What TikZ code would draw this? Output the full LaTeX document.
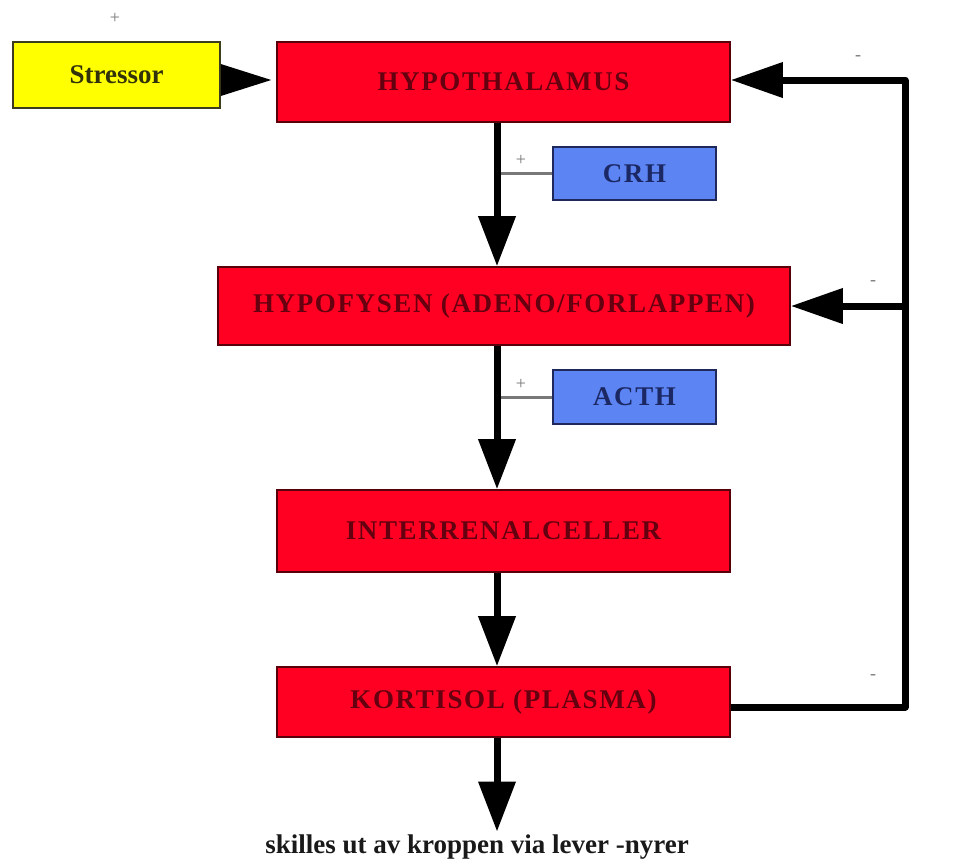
\documentclass[tikz,border=0pt]{standalone}
\usepackage{fontspec}
\setmainfont{Liberation Serif}
\usetikzlibrary{arrows.meta}
\definecolor{boxred}{RGB}{255,0,34}
\definecolor{txtred}{RGB}{100,0,15}
\definecolor{boxyel}{RGB}{255,255,0}
\definecolor{boxblue}{RGB}{92,132,242}
\definecolor{txtblue}{RGB}{28,40,100}
\definecolor{lgray}{RGB}{120,120,120}
\tikzset{
  base/.style={rectangle, inner sep=0pt, line width=1.6pt, font=\fontsize{27}{30}\selectfont\bfseries\addfontfeature{LetterSpace=6}},
  redbox/.style={base, fill=boxred, draw={rgb,255:red,90;green,0;blue,10}, text=txtred},
  yelbox/.style={base, font=\fontsize{27}{30}\selectfont\bfseries, fill=boxyel, draw={rgb,255:red,60;green,60;blue,30}, text={rgb,255:red,50;green,50;blue,10}},
  bluebox/.style={base, fill=boxblue, draw={rgb,255:red,30;green,40;blue,90}, text=txtblue},
  bigarrow/.style={line width=7pt, -{Triangle[length=50pt,width=36pt]}},
  fbline/.style={line width=7pt, line join=round},
  fbarrow/.style={line width=7pt, -{Triangle[length=52pt,width=34pt]}},
  thin/.style={draw=lgray, line width=3pt},
  sign/.style={text=lgray, font=\fontsize{18}{20}\selectfont, inner sep=0pt}
}
\begin{document}
\begin{tikzpicture}[x=1pt, y=-1pt]
\useasboundingbox[fill=white] (0,0) rectangle (960,865);
\coordinate (spine) at (497,0);
\coordinate (fb) at (905,0);
\node[yelbox, minimum width=207pt, minimum height=66pt] (stressor) at (116.5,75) {Stressor};
\node[redbox, minimum width=453pt, minimum height=80pt] (hypo) at (503.5,82) {HYPOTHALAMUS};
\node[bluebox, minimum width=163pt, minimum height=53pt] (crh) at (634.5,173.5) {CRH};
\node[redbox, minimum width=572pt, minimum height=78pt] (hypof) at (504,306) {HYPOFYSEN (ADENO/FORLAPPEN)};
\node[bluebox, minimum width=163pt, minimum height=54pt] (acth) at (634.5,397) {ACTH};
\node[redbox, minimum width=453pt, minimum height=82pt] (inter) at (503.5,531) {INTERRENALCELLER};
\node[redbox, minimum width=453pt, minimum height=70pt] (kort) at (503.5,702) {KORTISOL (PLASMA)};
\node[font=\fontsize{27}{30}\selectfont\bfseries, inner sep=0pt, text={rgb,255:red,25;green,25;blue,25}] (out) at (477,847) {skilles ut av kroppen via lever -nyrer};
% signs
\node[sign] (p1) at (115,18) {+};
\node[sign] (p2) at (521,160) {+};
\node[sign] (p3) at (521,384) {+};
\node[sign] (m1) at (858,58) {-};
\node[sign] (m2) at (873,283) {-};
\node[sign] (m3) at (873,677) {-};
% stressor arrow
\fill[black] ([yshift=11pt]stressor.east) -- ([xshift=-5pt,yshift=2pt]hypo.west) -- ([yshift=-21pt]stressor.east) -- cycle;
% main chain
\draw[thin] (spine |- crh.west) -- (crh.west);
\draw[thin] (spine |- acth.west) -- (acth.west);
\draw[bigarrow] (hypo.south -| spine) -- (hypof.north -| spine);
\draw[bigarrow] (hypof.south -| spine) -- (inter.north -| spine);
\draw[bigarrow] (inter.south -| spine) -- (kort.north -| spine);
\draw[bigarrow] (kort.south -| spine) -- ([yshift=3pt]out.north -| spine);
% feedback
\draw[fbline] ([yshift=-5pt]kort.east) -- ([yshift=-5pt]kort.east -| fb) -- ([yshift=2pt]hypo.east -| fb) -- ([yshift=2pt,xshift=40pt]hypo.east);
\draw[fbarrow] ([yshift=2pt,xshift=50pt]hypo.east) -- ([yshift=2pt]hypo.east);
\draw[fbarrow] (fb |- hypof.east) -- (hypof.east);
\end{tikzpicture}
\end{document}
